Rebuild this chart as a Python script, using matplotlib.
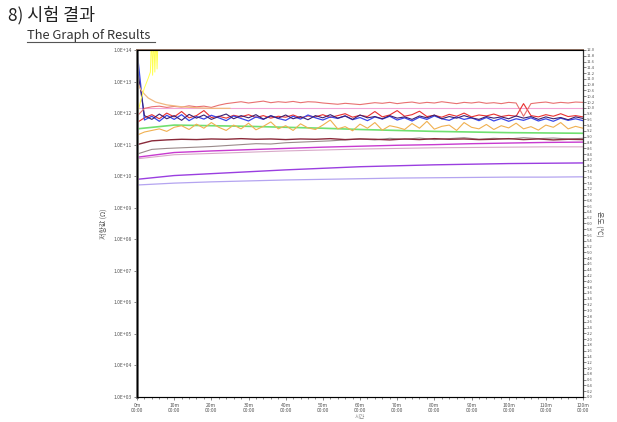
import numpy as np
import matplotlib
matplotlib.use("Agg")
import matplotlib.pyplot as plt
from matplotlib.lines import Line2D
from matplotlib.ticker import FixedLocator, MultipleLocator

plt.rcParams["font.family"] = ["Noto Sans CJK KR", "DejaVu Sans"]

# --- data (log10 of resistance), time in minutes -------------------------
red_upper = [11.90, 12.15, 12.20, 12.22, 12.18, 12.21, 12.19, 12.23, 12.20, 12.22,
             12.18, 12.25, 12.30, 12.33, 12.36, 12.32, 12.35, 12.38, 12.33, 12.36,
             12.34, 12.37, 12.33, 12.36, 12.35, 12.32, 12.30, 12.28, 12.31, 12.29,
             12.27, 12.30, 12.33, 12.31, 12.34, 12.30, 12.33, 12.35, 12.31, 12.34,
             12.32, 12.36, 12.33, 12.30, 12.34, 12.32, 12.35, 12.31, 12.33, 12.30,
             12.34, 12.32, 11.90, 12.30, 12.33, 12.35, 12.31, 12.34, 12.32, 12.35,
             12.34]
blue = [14.00, 11.78, 11.90, 11.74, 11.93, 11.80, 11.95, 11.76, 11.89, 11.81,
        11.93, 11.85, 11.76, 11.91, 11.83, 11.75, 11.88, 11.80, 11.92, 11.83,
        11.77, 11.90, 11.81, 11.94, 11.85, 11.78, 11.88, 11.83, 11.91, 11.79,
        11.86, 11.76, 11.88, 11.81, 11.90, 11.78, 11.85, 11.75, 11.87, 11.80,
        11.91, 11.82, 11.77, 11.88, 11.80, 11.85, 11.76, 11.86, 11.75, 11.83,
        11.74, 11.82, 11.77, 11.85, 11.75, 11.82, 11.74, 11.84, 11.77, 11.82,
        11.76]
navy = [13.50, 11.92, 11.80, 11.97, 11.82, 11.92, 11.77, 11.96, 11.84, 11.94,
        11.80, 11.89, 11.97, 11.82, 11.92, 11.85, 11.95, 11.81, 11.91, 11.84,
        11.94, 11.82, 11.89, 11.79, 11.92, 11.85, 11.95, 11.84, 11.91, 11.80,
        11.94, 11.85, 11.89, 11.82, 11.92, 11.84, 11.88, 11.80, 11.91, 11.85,
        11.94, 11.82, 11.89, 11.84, 11.92, 11.85, 11.80, 11.89, 11.84, 11.88,
        11.82, 11.91, 11.84, 11.89, 11.80, 11.88, 11.82, 11.86, 11.79, 11.88,
        11.83]
red_lower = [11.70, 11.85, 11.95, 11.82, 12.00, 11.88, 12.05, 11.85, 11.92, 12.08,
             11.86, 11.90, 11.84, 11.93, 11.88, 11.95, 11.86, 11.92, 11.84, 11.90,
             11.87, 11.94, 11.85, 11.91, 11.88, 11.95, 11.86, 11.92, 11.98, 11.87,
             11.93, 11.89, 12.05, 11.88, 11.94, 12.08, 11.90, 11.95, 12.06, 11.89,
             11.93, 11.87, 11.96, 11.90, 12.00, 11.88, 11.94, 11.91, 11.97, 11.89,
             11.93, 11.90, 12.30, 11.92, 11.88, 11.95, 11.90, 11.98, 11.89, 11.92,
             11.88]
orange_noisy = [11.30, 11.40, 11.45, 11.50, 11.42, 11.55, 11.60, 11.48, 11.65, 11.52,
                11.70, 11.55, 11.45, 11.62, 11.50, 11.68, 11.47, 11.58, 11.72, 11.50,
                11.60, 11.45, 11.66, 11.53, 11.48, 11.62, 11.78, 11.50, 11.57, 11.44,
                11.65, 11.52, 11.70, 11.46, 11.60, 11.55, 11.48, 11.67, 11.52, 11.74,
                11.49, 11.58, 11.62, 11.45, 11.70, 11.55, 11.50, 11.64, 11.48, 11.60,
                11.53, 11.68, 11.50, 11.57, 11.46, 11.62, 11.55, 11.70, 11.50, 11.58,
                11.52]
maroon = [11.00, 11.12, 11.15, 11.17, 11.16, 11.18, 11.17, 11.19, 11.17, 11.18,
          11.16, 11.18, 11.17, 11.19, 11.16, 11.18, 11.17, 11.15, 11.18, 11.16,
          11.19, 11.17, 11.18, 11.16, 11.17, 11.19, 11.16, 11.18, 11.15, 11.17,
          11.16]
gray = [10.70, 10.85, 10.88, 10.90, 10.92, 10.94, 10.97, 11.00, 11.03, 11.02,
        11.06, 11.08, 11.10, 11.12, 11.15, 11.18, 11.15, 11.20, 11.17, 11.21,
        11.16, 11.19, 11.22, 11.17, 11.20, 11.18, 11.22, 11.19, 11.21, 11.18,
        11.20]
green = [11.50, 11.62, 11.60, 11.58, 11.55, 11.52, 11.48, 11.45, 11.42, 11.40,
         11.38, 11.37, 11.36]
magenta = [10.60, 10.75, 10.80, 10.84, 10.88, 10.92, 10.95, 10.98, 11.00, 11.03,
           11.05, 11.07, 11.08]
pink_low = [10.55, 10.68, 10.72, 10.76, 10.80, 10.83, 10.86, 10.88, 10.90, 10.91,
            10.92, 10.93, 10.93]
purple = [9.90, 10.02, 10.08, 10.14, 10.20, 10.25, 10.30, 10.33, 10.36, 10.38,
          10.40, 10.41, 10.42]
lavender = [9.72, 9.78, 9.82, 9.85, 9.88, 9.90, 9.92, 9.94, 9.95, 9.96,
            9.97, 9.97, 9.98]
pink_flat = [12.16, 12.16]

orange_decay_t = [0, 1, 2, 3, 5, 8, 12, 16, 20, 25]
orange_decay = [13.0, 12.75, 12.6, 12.48, 12.35, 12.26, 12.2, 12.17, 12.15, 12.15]
yellow_t = [0, 1, 2, 3, 3.6, 3.9, 4.2, 4.5, 4.8, 5.1, 5.4, 5.7, 6.0]
yellow = [11.9, 12.4, 12.8, 13.1, 13.3, 14.5, 13.2, 14.5, 13.3, 14.5, 13.4, 14.5, 15.0]

x_major = [0, 10, 20, 30, 40, 50, 60, 70, 80, 90, 100, 110, 120]
x_labels = [f"{m}m\n00:00" for m in x_major]
y_decades = list(range(3, 15))


def tspan(vals):
    return np.linspace(0, 120, len(vals))


fig = plt.figure(figsize=(6.17, 4.22), dpi=100)
ax = fig.add_axes([137 / 617, 1 - 397 / 422, 446 / 617, 347 / 422])

series = [
    (pink_flat, "#f2a6d8", 0.8),
    (lavender, "#b4a4f0", 0.9),
    (purple, "#9a3ee0", 1.0),
    (pink_low, "#d8a8c8", 0.8),
    (magenta, "#c83ad0", 1.0),
    (gray, "#9a8a8a", 0.8),
    (maroon, "#8a2a3a", 1.0),
    (green, "#70e070", 1.2),
    (orange_noisy, "#f0b050", 0.8),
    (red_lower, "#e83030", 0.8),
    (blue, "#3a48e8", 0.9),
    (navy, "#3a2070", 0.8),
    (red_upper, "#e87070", 0.8),
]
for vals, col, lw in series:
    ax.plot(tspan(vals), 10.0 ** np.array(vals), color=col, lw=lw)
ax.plot(orange_decay_t, 10.0 ** np.array(orange_decay), color="#f0b880", lw=0.9)
ax.plot(yellow_t, 10.0 ** np.array(yellow), color="#ffff50", lw=0.7)

ax.set_yscale("log")
ax.set_ylim(1e3, 1e14)
ax.set_xlim(0, 120)
ax.yaxis.set_major_locator(FixedLocator([10.0 ** d for d in y_decades]))
ax.yaxis.set_minor_locator(FixedLocator([]))
ax.set_yticklabels([f"1.0E+{d:02d}" for d in y_decades])
ax.set_xticks(x_major)
ax.set_xticklabels(x_labels)
ax.xaxis.set_minor_locator(MultipleLocator(2))
ax.tick_params(axis="both", labelsize=3.6, colors="#555555", length=2.5, width=0.5,
               pad=1.5)
ax.tick_params(axis="x", which="minor", length=1.5, width=0.5, colors="#555555")
ax.set_ylabel("저항값 (Ω)", fontsize=5, color="#555555", labelpad=4)
ax.set_xlabel("시간", fontsize=4, color="#888888", labelpad=1)

for side in ("left", "bottom"):
    ax.spines[side].set_color("#686868")
ax.spines["left"].set_linewidth(2.0)
ax.spines["bottom"].set_linewidth(0.8)
ax.spines["top"].set_color("#8c7060")
ax.spines["top"].set_linewidth(1.4)

ax2 = ax.twinx()
ax2.set_ylim(0, 12)
ax2.set_yticks(np.round(np.arange(0, 12.01, 0.2), 1))
ax2.set_yticklabels([f"{v:.1f}" for v in np.arange(0, 12.01, 0.2)])
ax2.tick_params(axis="y", labelsize=3.0, colors="#555555", length=2, width=0.5, pad=1)
ax2.spines["right"].set_color("#303030")
ax2.spines["right"].set_linewidth(0.8)
ax2.set_ylabel("온도 (℃)", fontsize=5, color="#555555", rotation=270, labelpad=6)

fig.text(8 / 617, 1 - 15 / 422, "8) 시험 결과", fontsize=12.5, va="center", ha="left",
         color="#222222")
fig.text(27 / 617, 1 - 35 / 422, "The Graph of Results", fontsize=9.3, va="center",
         ha="left", color="#333333")
fig.add_artist(Line2D([27 / 617, 155 / 617], [1 - 42 / 422, 1 - 42 / 422],
                      color="#555555", lw=0.8))

fig.savefig("out.png", dpi=100)
